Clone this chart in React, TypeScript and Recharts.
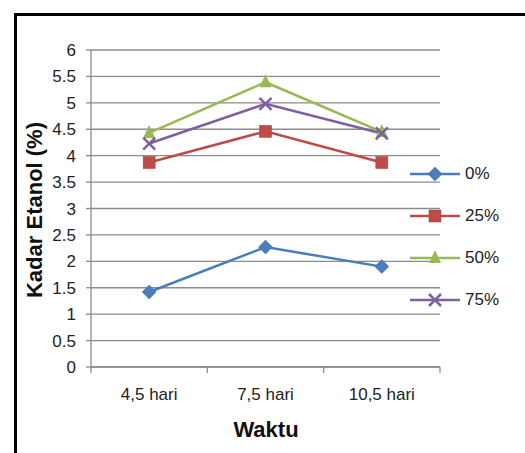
import React from 'react';
import { LineChart, Line, XAxis, YAxis, CartesianGrid } from 'recharts';

const categories = ['4,5 hari', '7,5 hari', '10,5 hari'];
const series0 = [1.42, 2.27, 1.9];
const series25 = [3.87, 4.46, 3.87];
const series50 = [4.43, 5.39, 4.45];
const series75 = [4.23, 4.98, 4.42];
const yTicks = [0, 0.5, 1, 1.5, 2, 2.5, 3, 3.5, 4, 4.5, 5, 5.5, 6];
const xTicks = [0, 0.5, 1, 1.5, 2, 2.5, 3];

const SERIES = [
  { key: 's0', name: '0%', color: '#4a7ebb', shape: 'diamond', values: series0 },
  { key: 's25', name: '25%', color: '#be4b48', shape: 'square', values: series25 },
  { key: 's50', name: '50%', color: '#98b954', shape: 'triangle', values: series50 },
  { key: 's75', name: '75%', color: '#7d60a0', shape: 'x', values: series75 },
];

const data = categories.map((c, i) => {
  const row: any = { pos: i + 0.5, label: c };
  SERIES.forEach(s => { row[s.key] = s.values[i]; });
  return row;
});

const Marker = ({ cx, cy, shape, color }: any) => {
  if (cx == null || cy == null) return null;
  if (shape === 'diamond') {
    return <polygon points={`${cx},${cy - 7} ${cx + 7},${cy} ${cx},${cy + 7} ${cx - 7},${cy}`} fill={color} stroke="#3a6aa5" strokeWidth={0.5} />;
  }
  if (shape === 'square') {
    return <rect x={cx - 6} y={cy - 6} width={12} height={12} fill={color} stroke="#a33c39" strokeWidth={0.5} />;
  }
  if (shape === 'triangle') {
    return <polygon points={`${cx},${cy - 8} ${cx + 6},${cy + 5} ${cx - 6},${cy + 5}`} fill={color} />;
  }
  return (
    <g stroke={color} strokeWidth={2.5}>
      <line x1={cx - 6} y1={cy - 6} x2={cx + 6} y2={cy + 6} />
      <line x1={cx - 6} y1={cy + 6} x2={cx + 6} y2={cy - 6} />
    </g>
  );
};

const font = '"Liberation Sans", Arial, sans-serif';

const XTick = ({ x, y, payload }: any) => {
  const v = payload.value;
  if (Number.isInteger(v)) {
    return <line x1={x} y1={y} x2={x} y2={y + 6} stroke="#8c8c8c" strokeWidth={1.3} />;
  }
  return (
    <text x={x} y={y + 33} textAnchor="middle" fontSize={17} fill="#222" fontFamily={font}>
      {categories[Math.floor(v)]}
    </text>
  );
};

export default function App() {
  return (
    <div style={{ position: 'absolute', left: 0, top: 0, width: 525, height: 453, overflow: 'hidden', background: '#fff', fontFamily: font }}>
      <div style={{ position: 'absolute', left: 14, top: 13, width: 600, height: 500, border: '3px solid #000', boxSizing: 'border-box' }} />
      <div style={{ position: 'absolute', left: 0, top: 0 }}>
        <LineChart width={525} height={453} data={data} margin={{ top: 50, right: 85, left: 31, bottom: 46 }}>
          <CartesianGrid horizontal vertical={false} stroke="#8c8c8c" strokeWidth={1.3} />
          <XAxis
            type="number"
            dataKey="pos"
            domain={[0, 3]}
            ticks={xTicks}
            interval={0}
            tick={<XTick />}
            tickLine={false}
            tickSize={0}
            tickMargin={0}
            stroke="#8c8c8c"
            strokeWidth={1.3}
            height={40}
          />
          <YAxis
            type="number"
            domain={[0, 6]}
            ticks={yTicks}
            interval={0}
            stroke="#8c8c8c"
            strokeWidth={1.3}
            tickSize={5}
            tickMargin={10}
            width={60}
            tick={{ fontSize: 17, fill: '#222', fontFamily: font }}
          />
          {SERIES.map(s => (
            <Line
              key={s.key}
              type="linear"
              dataKey={s.key}
              name={s.name}
              stroke={s.color}
              strokeWidth={2.5}
              dot={(p: any) => <Marker key={`${s.key}-${p.index}`} cx={p.cx} cy={p.cy} shape={s.shape} color={s.color} />}
              isAnimationActive={false}
            />
          ))}
        </LineChart>
      </div>
      <div style={{ position: 'absolute', left: 35, top: 210, transform: 'translate(-50%, -50%) rotate(-90deg)', fontWeight: 'bold', fontSize: 22, whiteSpace: 'nowrap', color: '#111' }}>
        Kadar Etanol (%)
      </div>
      <div style={{ position: 'absolute', left: 266, top: 430, transform: 'translate(-50%, -50%)', fontWeight: 'bold', fontSize: 22, color: '#111' }}>
        Waktu
      </div>
      {SERIES.map((s, i) => (
        <div key={s.key} style={{ position: 'absolute', left: 408, top: 174 + i * 42 - 12, height: 24, display: 'flex', alignItems: 'center' }}>
          <svg width={54} height={24}>
            <line x1={2} y1={12} x2={52} y2={12} stroke={s.color} strokeWidth={2.5} />
            <Marker cx={27} cy={12} shape={s.shape} color={s.color} />
          </svg>
          <span style={{ fontSize: 17, color: '#222', marginLeft: 3 }}>{s.name}</span>
        </div>
      ))}
    </div>
  );
}
